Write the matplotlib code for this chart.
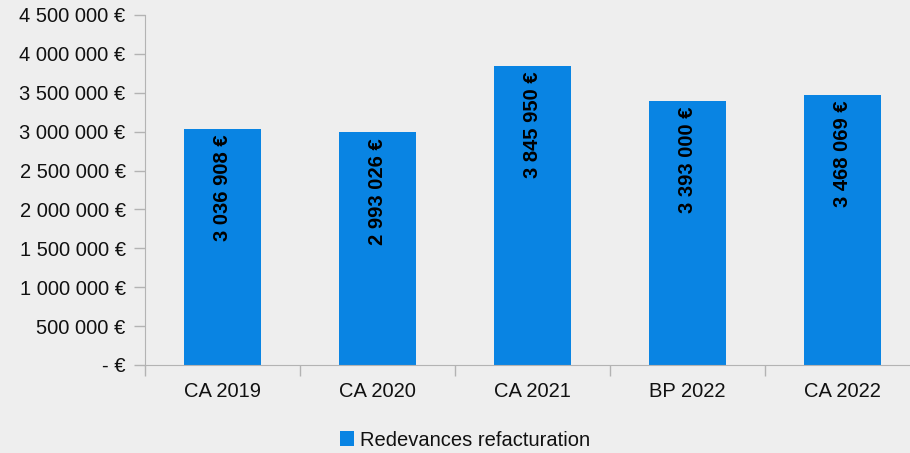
import numpy as np
import matplotlib.pyplot as plt
from matplotlib.ticker import FuncFormatter, FixedLocator, NullFormatter

categories = ["CA 2019", "CA 2020", "CA 2021", "BP 2022", "CA 2022"]
values = [3036908, 2993026, 3845950, 3393000, 3468069]
series_name = "Redevances refacturation"


def euro(v):
    if v == 0:
        return "- €"
    return "{:,.0f} €".format(v).replace(",", " ")


def main():
    plt.rcParams['font.family'] = ['Liberation Sans', 'DejaVu Sans']
    bg = '#eeeeee'
    color = '#0984e3'
    grey = '#b3b3b3'
    fs = 14.5

    fig = plt.figure(figsize=(9.1, 4.53), dpi=100, facecolor=bg)
    ax = fig.add_axes([145 / 910, 1 - 365 / 453, 775 / 910, 350 / 453])
    ax.set_facecolor(bg)

    x = np.arange(len(categories))
    bars = ax.bar(x, values, width=0.5, color=color, label=series_name, zorder=2)

    ax.set_xlim(-0.5, len(categories) - 0.5)
    ax.set_ylim(0, 4500000)
    ax.set_yticks(np.arange(0, 4500001, 500000))
    ax.yaxis.set_major_formatter(FuncFormatter(lambda v, p: euro(v)))

    # category labels centered, ticks on boundaries
    ax.set_xticks(x)
    ax.set_xticklabels(categories)
    ax.tick_params(axis='x', length=0, pad=12, labelsize=fs, labelcolor='#111111')
    ax.xaxis.set_minor_locator(FixedLocator(np.arange(-0.5, len(categories), 1.0)))
    ax.xaxis.set_minor_formatter(NullFormatter())
    ax.tick_params(axis='x', which='minor', length=8, color=grey, width=1)
    ax.tick_params(axis='y', length=8, color=grey, width=1, labelsize=fs,
                   labelcolor='#111111', pad=6)

    for s in ['top', 'right']:
        ax.spines[s].set_visible(False)
    ax.spines['left'].set_color(grey)
    ax.spines['bottom'].set_color(grey)

    for b, v in zip(bars, values):
        ax.annotate(euro(v), (b.get_x() + b.get_width() / 2, v),
                    xytext=(0, -4), textcoords='offset points',
                    rotation=90, ha='center', va='top',
                    fontsize=fs, fontweight='bold', color='black')

    fig.legend(handles=[bars], labels=[series_name], loc='center',
               bbox_to_anchor=(465 / 910, 1 - 440 / 453), frameon=False,
               fontsize=fs, handlelength=0.7, handleheight=0.7,
               handletextpad=0.3, labelcolor='#111111')

    fig.savefig("out.png", dpi=100, facecolor=bg)


if __name__ == "__main__":
    main()
